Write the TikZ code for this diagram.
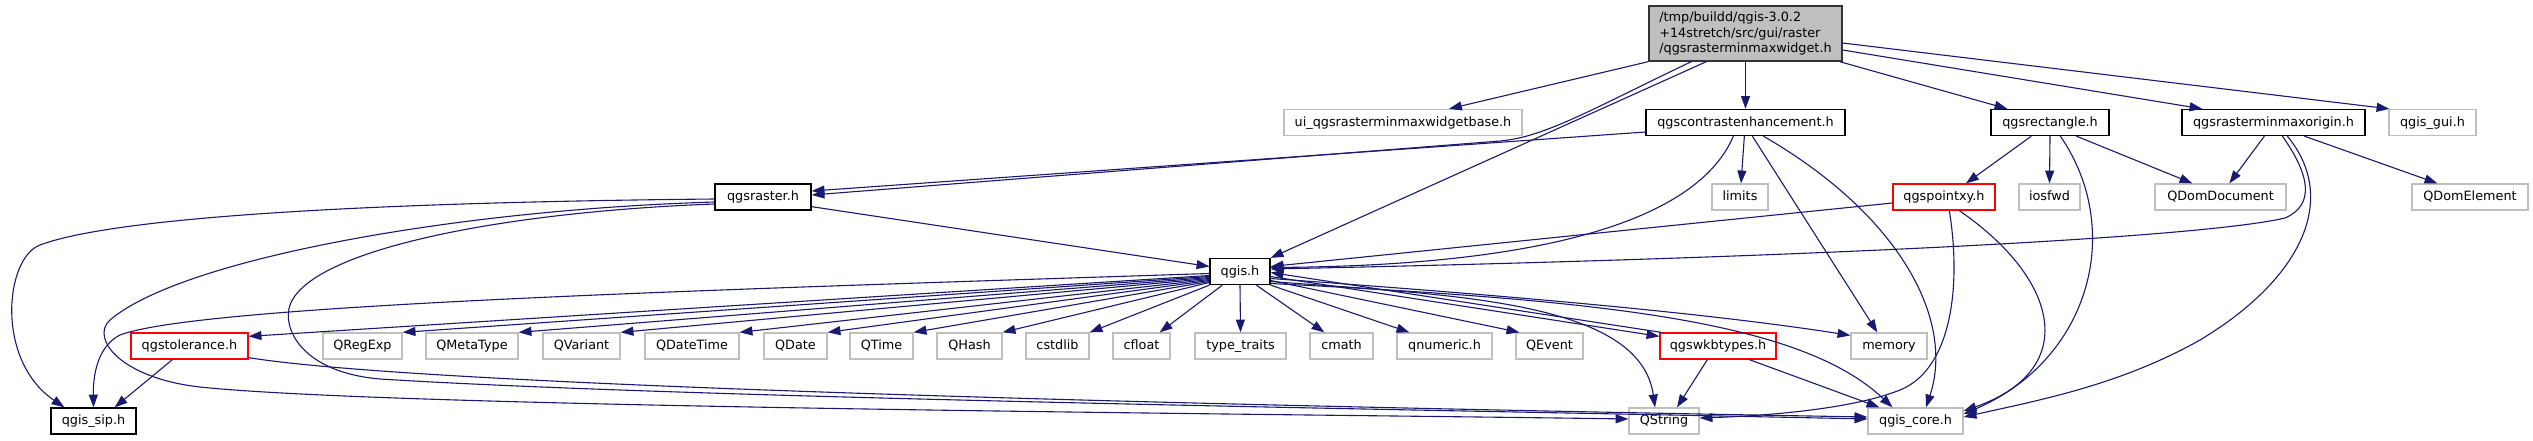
\documentclass[tikz,border=0pt]{standalone}
\usepackage{fontspec}
\setmainfont{DejaVu Sans}
\usetikzlibrary{arrows.meta,calc}
\definecolor{edgeblue}{HTML}{191970}
\definecolor{undocgray}{HTML}{BFBFBF}
\definecolor{rootfill}{HTML}{BFBFBF}
\tikzset{
  gbase/.style={draw, rectangle, inner sep=0pt, line width=1.3pt, minimum height=26pt,
    font=\fontsize{12.8}{15.4}\selectfont},
  gbox/.style={gbase, text height=10pt, text depth=2.6pt},
  doc/.style={gbox, draw=black},
  undoc/.style={gbox, draw=undocgray},
  trunc/.style={gbox, draw=red},
  rootbox/.style={gbase, draw=black!80, fill=rootfill, minimum height=55pt, align=left},
  dep/.style={draw=edgeblue, line width=1.1pt, -{Triangle[length=12.8pt,width=9pt]}}
}
\begin{document}
\begin{tikzpicture}[x=1pt,y=-1pt]
\useasboundingbox (0,0) rectangle (2533,440);
\fill[white] (0,0) rectangle (2533,440);
% root
\node[rootbox, minimum width=193pt] (M) at (1745.5,33.5) {/tmp/buildd/qgis-3.0.2\\+14stretch/src/gui/raster\\/qgsrasterminmaxwidget.h};
% row 1
\node[undoc, minimum width=238pt] (ui) at (1403,122.5) {ui\_qgsrasterminmaxwidgetbase.h};
\node[doc, minimum width=199pt] (CE) at (1745.5,122.5) {qgscontrastenhancement.h};
\node[doc, minimum width=118pt] (R) at (2050,122.5) {qgsrectangle.h};
\node[doc, minimum width=183pt] (O) at (2273.5,122.5) {qgsrasterminmaxorigin.h};
\node[undoc, minimum width=87pt] (gui) at (2432.5,122.5) {qgis\_gui.h};
% row 2
\node[doc, minimum width=96pt] (RA) at (763,197) {qgsraster.h};
\node[undoc, minimum width=56pt] (lim) at (1740,197) {limits};
\node[trunc, minimum width=102pt] (P) at (1944,197) {qgspointxy.h};
\node[undoc, minimum width=61pt] (ios) at (2049.5,197) {iosfwd};
\node[undoc, minimum width=131pt] (QDD) at (2220.5,197) {QDomDocument};
\node[undoc, minimum width=116pt] (QDE) at (2470,197) {QDomElement};
% qgis.h
\node[doc, minimum width=60pt] (Q) at (1240,271.5) {qgis.h};
% row 3
\node[trunc, minimum width=117pt] (T) at (189.5,346) {qgstolerance.h};
\node[undoc, minimum width=79pt] (nRegExp) at (362.5,346) {QRegExp};
\node[undoc, minimum width=92pt] (nMetaType) at (472,346) {QMetaType};
\node[undoc, minimum width=77pt] (nVariant) at (581.5,346) {QVariant};
\node[undoc, minimum width=94pt] (nDateTime) at (692,346) {QDateTime};
\node[undoc, minimum width=63pt] (nDate) at (795.5,346) {QDate};
\node[undoc, minimum width=63pt] (nTime) at (881.5,346) {QTime};
\node[undoc, minimum width=65pt] (nHash) at (969.5,346) {QHash};
\node[undoc, minimum width=63pt] (cstdlib) at (1057.5,346) {cstdlib};
\node[undoc, minimum width=57pt] (cfloat) at (1141.5,346) {cfloat};
\node[undoc, minimum width=91pt] (ttraits) at (1240.5,346) {type\_traits};
\node[undoc, minimum width=63pt] (cmath) at (1341.5,346) {cmath};
\node[undoc, minimum width=95pt] (qnumeric) at (1444.5,346) {qnumeric.h};
\node[undoc, minimum width=67pt] (QEvent) at (1549.5,346) {QEvent};
\node[trunc, minimum width=116pt] (W) at (1718,346) {qgswkbtypes.h};
\node[undoc, minimum width=76pt] (mem) at (1889,346) {memory};
% row 4
\node[doc, minimum width=85pt] (sip) at (93.5,421) {qgis\_sip.h};
\node[undoc, minimum width=70pt] (QString) at (1664,421) {QString};
\node[undoc, minimum width=95pt] (core) at (1915.5,421) {qgis\_core.h};

% root edges
\draw[dep] (M.south west) -- ($(ui.north)+(46,0)$);
\draw[dep] ($(M.south west)+(43,0)$) .. controls (1590,110) and (1545,137) .. (1500,141) -- ($(RA.east)+(0,-2)$);
\draw[dep] ($(M.south west)+(58,0)$) -- (Q.north east);
\draw[dep] (M.south) -- (CE.north);
\draw[dep] ($(M.south east)+(-3,0)$) -- ($(R.north west)+(17,0)$);
\draw[dep] ($(M.east)+(0,16.5)$) -- ($(O.north west)+(21,0)$);
\draw[dep] ($(M.east)+(0,9.5)$) -- ($(gui.north west)+(1,0)$);
% contrast enhancement
\draw[dep] ($(CE.west)+(0,9.5)$) -- ($(RA.east)+(0,-6)$);
\draw[dep] ($(CE.south west)+(88,0)$) .. controls (1700,215) and (1560,265) .. ($(Q.east)+(0,-4)$);
\draw[dep] ($(CE.south west)+(99,0)$) -- ($(lim.north)+(1,0)$);
\draw[dep] ($(CE.south west)+(107,0)$) -- ($(mem.north west)+(27,0)$);
\draw[dep] ($(CE.south west)+(118,0)$) .. controls (1900,215) and (1955,320) .. ($(core.north)+(10.5,0)$);
% rectangle
\draw[dep] ($(R.south west)+(41,0)$) -- ($(P.north)+(22,0)$);
\draw[dep] (R.south) -- (ios.north);
\draw[dep] ($(R.south west)+(86,0)$) -- ($(QDD.north west)+(38,0)$);
\draw[dep] ($(R.south west)+(70,0)$) .. controls (2125,230) and (2090,360) .. ($(core.east)+(0,-7)$);
% minmax origin
\draw[dep] ($(O.south west)+(83,0)$) -- ($(QDD.north west)+(75,0)$);
\draw[dep] ($(O.south west)+(123,0)$) -- ($(QDE.north west)+(26,0)$);
\draw[dep] ($(O.south west)+(101,0)$) .. controls (2310,175) and (2315,205) .. (2285,218) .. controls (2200,238) and (1800,258) .. ($(Q.east)+(0,-2.5)$);
\draw[dep] ($(O.south west)+(106,0)$) .. controls (2340,200) and (2300,280) .. (2200,340) .. controls (2120,385) and (2040,400) .. ($(core.east)+(0,-4)$);
% pointxy
\draw[dep] ($(P.west)+(0,6)$) -- ($(Q.east)+(0,-5)$);
\draw[dep] ($(P.south west)+(57,0)$) .. controls (1962,290) and (1950,370) .. (1900,390) .. controls (1850,410) and (1760,416) .. ($(QString.east)+(0,-3)$);
\draw[dep] ($(P.south west)+(67,0)$) .. controls (2060,280) and (2080,370) .. ($(core.east)+(0,-10)$);
% raster
\draw[dep] ($(RA.south east)+(0,-4)$) -- ($(Q.west)+(0,-5)$);
\draw[dep] ($(RA.west)+(0,2)$) .. controls (400,202) and (120,215) .. (40,245) .. controls (5,258) and (-5,360) .. ($(sip.north west)+(14,0)$);
\draw[dep] ($(RA.west)+(0,5)$) .. controls (450,210) and (180,260) .. (110,320) .. controls (90,338) and (120,378) .. (200,387) .. controls (400,408) and (1300,414) .. ($(QString.west)+(0,-2)$);
\draw[dep] ($(RA.west)+(0,7)$) .. controls (500,212) and (310,250) .. (290,305) .. controls (282,327) and (300,372) .. (380,379) .. controls (700,399) and (1500,411) .. ($(core.west)+(0,-2)$);
% tolerance
\draw[dep] ($(T.south east)+(0,-2)$) .. controls (400,382) and (1000,402) .. ($(core.west)+(0,-4)$);
\draw[dep] ($(T.south west)+(42,0)$) -- ($(sip.north east)+(-22,0)$);
% qgis.h
\draw[dep] ($(Q.west)+(0,2)$) .. controls (700,290) and (200,305) .. (120,335) .. controls (100,345) and (93,370) .. (sip.north);
\draw[dep] ($(Q.west)+(0,4)$) -- ($(T.north east)+(0,4)$);
\draw[dep] ($(Q.west)+(0,5)$) -- (nRegExp.north east);
\draw[dep] ($(Q.west)+(0,6)$) -- (nMetaType.north east);
\draw[dep] ($(Q.west)+(0,7)$) -- (nVariant.north east);
\draw[dep] ($(Q.west)+(0,8)$) -- (nDateTime.north east);
\draw[dep] ($(Q.west)+(0,9)$) -- (nDate.north east);
\draw[dep] ($(Q.west)+(0,10)$) -- (nTime.north east);
\draw[dep] ($(Q.west)+(0,11)$) -- (nHash.north east);
\draw[dep] (Q.south west) -- (cstdlib.north east);
\draw[dep] ($(Q.south west)+(13,0)$) -- ($(cfloat.north east)+(-11,0)$);
\draw[dep] (Q.south) -- (ttraits.north);
\draw[dep] ($(Q.south west)+(47,0)$) -- ($(cmath.north west)+(15,0)$);
\draw[dep] (Q.south east) -- ($(qnumeric.north west)+(13,0)$);
\draw[dep] ($(Q.east)+(0,9)$) -- ($(QEvent.north west)+(4,0)$);
\draw[dep] ($(Q.east)+(0,5)$) -- ($(W.north west)+(0,4)$);
\draw[dep] ($(W.north west)+(2,0)$) -- ($(Q.east)+(0,1)$);
\draw[dep] ($(Q.east)+(0,7)$) .. controls (1500,295) and (1700,312) .. ($(mem.north west)+(0,3)$);
\draw[dep] ($(Q.east)+(0,10)$) .. controls (1450,295) and (1640,300) .. ($(QString.north)+(-9,0)$);
\draw[dep] ($(Q.east)+(0,12)$) .. controls (1600,300) and (1800,320) .. ($(core.north)+(-23,0)$);
% wkbtypes
\draw[dep] ($(W.south west)+(48,0)$) -- ($(QString.north)+(13,0)$);
\draw[dep] ($(W.south west)+(90,0)$) -- ($(core.north west)+(12,0)$);
\end{tikzpicture}
\end{document}
